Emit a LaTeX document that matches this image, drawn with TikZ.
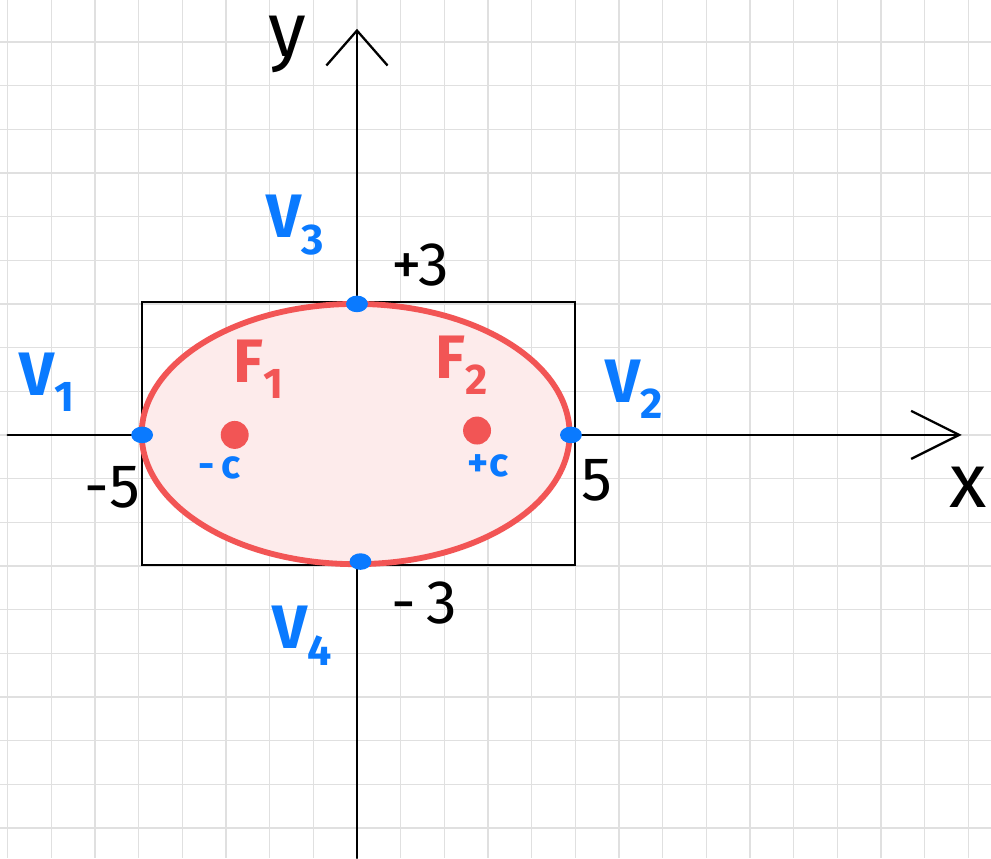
\documentclass[tikz,border=0pt]{standalone}
\usepackage{fontspec}
\setmainfont{Fira Sans}
\usepackage{tikz}
\usetikzlibrary{
arrows.meta,
positioning,
shapes.geometric
}
\definecolor{penred}{HTML}{F25555}
\definecolor{penblue}{HTML}{0A7AFF}
\definecolor{paperline}{HTML}{E0E0E0}

\begin{document}
\begin{tikzpicture}[
gridline/.style={draw=paperline, line width=0.8pt},
axis/.style={line width=1.5pt, line cap=round},
framebox/.style={draw=black, line width=1.3pt},
curve/.style={draw=penred, fill=penred!12, line width=3.8pt},
vdot/.style={ellipse, fill=penblue, minimum width=0.5cm, minimum height=0.38cm, inner sep=0pt},
fdot/.style={circle, fill=penred, minimum size=0.64cm, inner sep=0pt},
handnum/.style={font=\fontsize{40}{40}\selectfont, text=black},
axislabel/.style={font=\fontsize{50}{50}\selectfont, text=black},
vlabel/.style={font=\fontsize{40}{40}\selectfont\bfseries, text=penblue},
flabel/.style={font=\fontsize{40}{40}\selectfont\bfseries, text=penred},
clabel/.style={font=\fontsize{26}{26}\selectfont\bfseries, text=penblue}
]

% paper
\useasboundingbox (-8.175,-9.69) rectangle (14.52,9.96);
\fill[white] (-8.175,-9.69) rectangle (14.52,9.96);
\draw[gridline] (-8.175,-9.69) grid (14.52,9.96);

% axes
\coordinate (xstart) at (-8.0,0);
\coordinate (xend) at (13.85,0);
\coordinate (ystart) at (0,-9.69);
\coordinate (yend) at (0,9.3);
\draw[axis, -{Straight Barb[length=11mm, width=11mm]}] (xstart) -- (xend);
\draw[axis, -{Straight Barb[length=8mm, width=14mm]}] (ystart) -- (yend);
\node[axislabel] (ylab) at (-1.6,8.95) {y};
\node[axislabel] (xlab) at (14.0,-1.2) {x};

% box and ellipse
\draw[framebox] (-4.93,-2.98) rectangle (5.0,3.05);
\draw[curve] (-0.03,0.02) ellipse [x radius=4.9, y radius=2.98];

% foci
\node[fdot] (f1) at (-2.8,0) {};
\node[fdot] (f2) at (2.75,0.1) {};
\node[flabel] (lf1) at (-2.25,1.5) {F\textsubscript{1}};
\node[flabel] (lf2) at (2.4,1.6) {F\textsubscript{2}};
\node[clabel] (lc1) at (-3.15,-0.75) {-\,c};
\node[clabel] (lc2) at (3.0,-0.7) {+c};

% vertices
\node[vdot] (v1) at (-4.92,0) {};
\node[vdot] (v2) at (4.9,0) {};
\node[vdot] (v3) at (0,3.0) {};
\node[vdot] (v4) at (0.08,-2.9) {};
\node[vlabel] (lv1) at (-7.1,1.2) {V\textsubscript{1}};
\node[vlabel] (lv2) at (6.35,1.05) {V\textsubscript{2}};
\node[vlabel] (lv3) at (-1.4,4.8) {V\textsubscript{3}};
\node[vlabel] (lv4) at (-1.25,-4.6) {V\textsubscript{4}};

% numbers
\node[handnum] (p3) at (1.45,3.9) {+3};
\node[handnum] (m3) at (1.55,-3.85) {-\,3};
\node[handnum] (m5) at (-5.6,-1.2) {-5};
\node[handnum] (p5) at (5.5,-1.05) {5};

\end{tikzpicture}
\end{document}
